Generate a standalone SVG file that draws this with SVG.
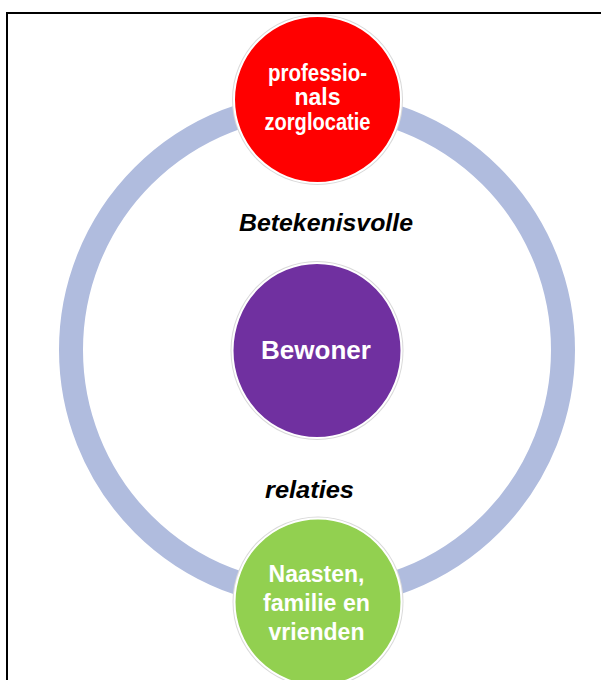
<svg xmlns="http://www.w3.org/2000/svg" width="601" height="680" viewBox="0 0 601 680">
<style>
.node-halo{fill:#d9d9d9}
.node-body{stroke:#ffffff;stroke-width:2}
.label{font-family:"Liberation Sans",Arial,sans-serif;font-weight:bold;fill:#ffffff;text-anchor:middle}
.caption{font-family:"Liberation Sans",Arial,sans-serif;font-weight:bold;font-style:italic;fill:#000000;text-anchor:middle;font-size:24px}
</style>
<rect x="0" y="0" width="601" height="680" fill="#ffffff"/>
<rect x="7" y="13" width="600" height="680" fill="none" stroke="#000000" stroke-width="2"/>
<g id="connectors">
<circle cx="317" cy="350" r="246" fill="none" stroke="#B0BCDE" stroke-width="24"/>
</g>
<text class="caption" x="326" y="231" textLength="174" lengthAdjust="spacingAndGlyphs">Betekenisvolle</text>
<text class="caption" x="309.5" y="498" textLength="89" lengthAdjust="spacingAndGlyphs">relaties</text>
<g id="node-professionals">
<circle class="node-halo" cx="317.5" cy="99.5" r="85.5"/>
<circle class="node-body" cx="317.5" cy="99.5" r="83.5" fill="#FF0000"/>
<text class="label" font-size="23" x="317.5" y="80.5" textLength="99" lengthAdjust="spacingAndGlyphs">professio-</text>
<text class="label" font-size="23" x="317.5" y="104.5">nals</text>
<text class="label" font-size="23" x="317.5" y="130" textLength="106" lengthAdjust="spacingAndGlyphs">zorglocatie</text>
</g>
<g id="node-bewoner">
<ellipse class="node-halo" cx="317" cy="350.5" rx="86.5" ry="89.5"/>
<ellipse class="node-body" cx="317" cy="350.5" rx="84.5" ry="87.5" fill="#7030A0"/>
<text class="label" font-size="26" x="316" y="359">Bewoner</text>
</g>
<g id="node-naasten">
<circle class="node-halo" cx="318" cy="602" r="85.5"/>
<circle class="node-body" cx="318" cy="602" r="83.5" fill="#92D050"/>
<text class="label" font-size="23" x="316.5" y="582">Naasten,</text>
<text class="label" font-size="23" x="316.5" y="611" textLength="107" lengthAdjust="spacingAndGlyphs">familie en</text>
<text class="label" font-size="23" x="316.5" y="640">vrienden</text>
</g>
</svg>
